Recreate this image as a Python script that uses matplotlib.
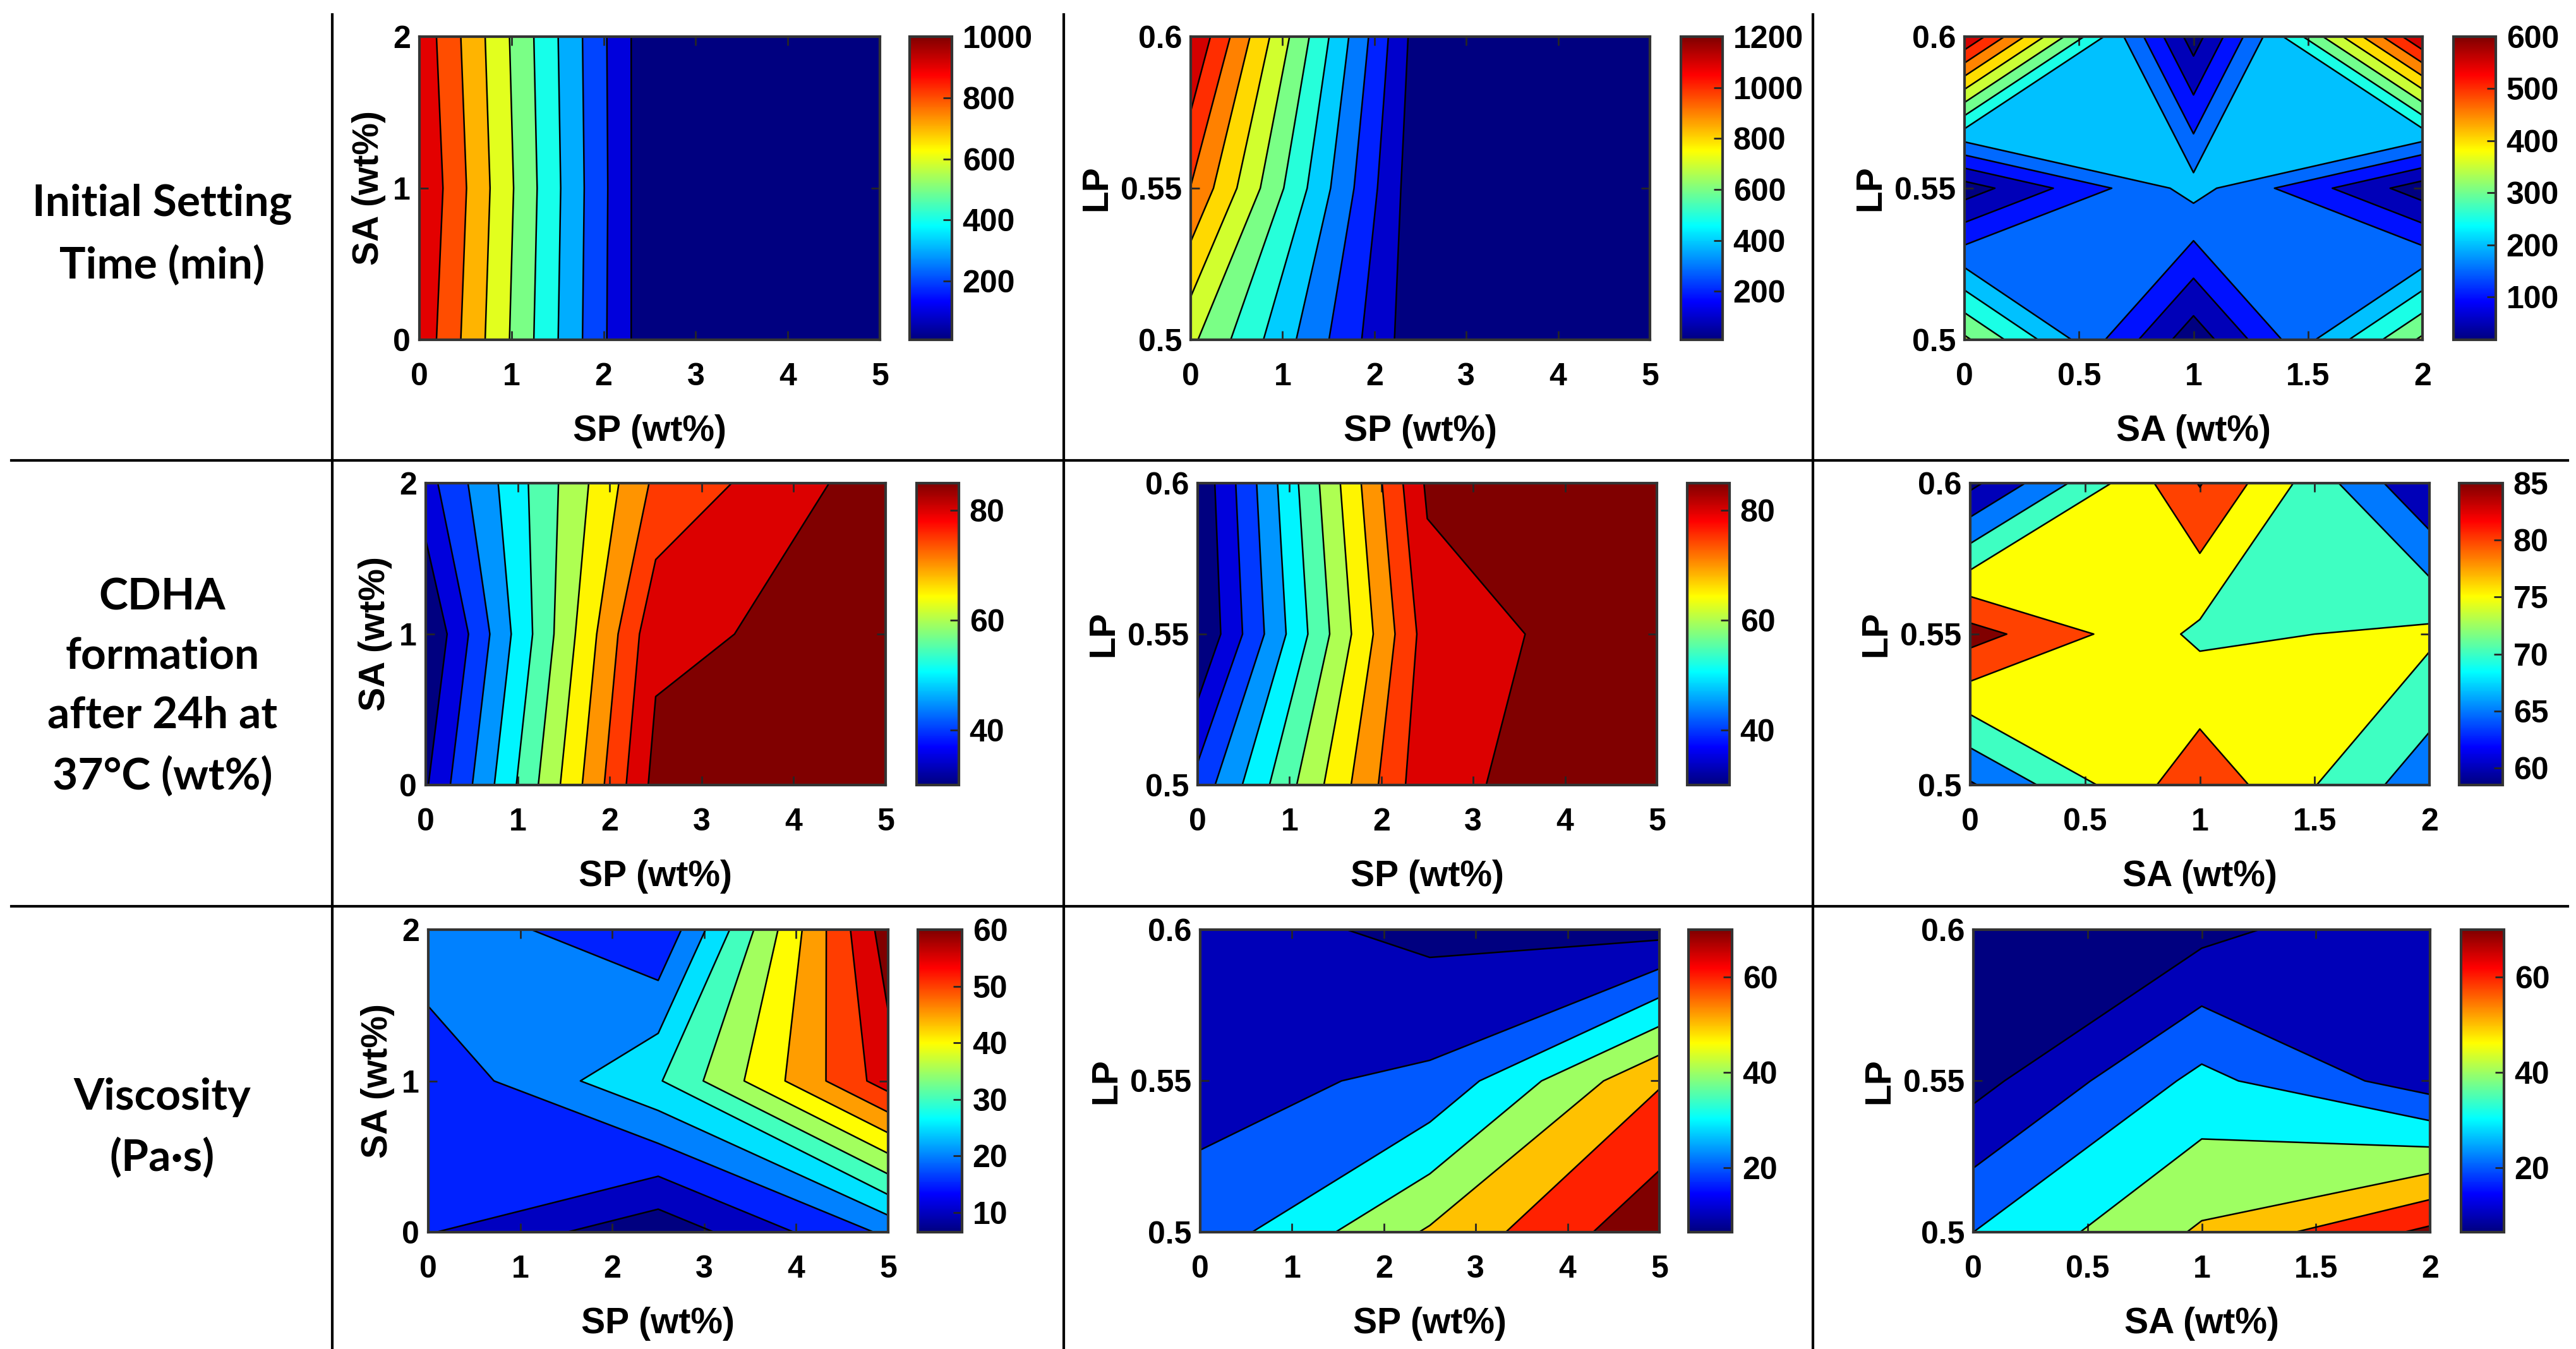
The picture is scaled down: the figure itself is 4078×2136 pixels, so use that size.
import matplotlib
matplotlib.use('Agg')
import matplotlib.pyplot as plt
import numpy as np
from matplotlib.colors import LinearSegmentedColormap, Normalize
from matplotlib.cm import ScalarMappable
from matplotlib.lines import Line2D

# three-level factors
sp = [0, 2.5, 5]
sa = [0, 1, 2]
lp = [0.5, 0.55, 0.6]

# responses on the 3x3 grids, rows = y factor (low -> high), cols = x factor
ist_sp_sa = [[970, 24, 8], [1000, 22, 8], [970, 24, 8]]
ist_sp_lp = [[722, 21, 10], [997, 17, 10], [1200, 38, 10]]
ist_sa_lp = [[360, 18, 360], [24, 220, 22], [600, 25, 600]]

cdha_sp_sa = [[34.4, 86.7, 87.0], [30.0, 83.8, 87.3], [38.0, 76.1, 87.9]]
cdha_sp_lp = [[41.8, 84.0, 87.9], [29.7, 82.4, 88.5], [30.9, 85.8, 88.0]]
cdha_sa_lp = [[64.4, 83.6, 66.7], [87.1, 73.9, 76.1], [58.6, 85.3, 60.0]]

visc_sp_sa = [[15.3, 6.5, 20.9], [16.2, 29.5, 57.6], [23.9, 15.2, 62.8]]
visc_sp_lp = [[23.8, 51.3, 77.6], [16.8, 22.0, 59.0], [14.75, 7.3, 6.4]]
visc_sa_lp = [[30.0, 51.4, 72.4], [6.4, 32.9, 14.85], [7.0, 6.8, 19.5]]

row_labels = ['Initial Setting\nTime (min)',
              'CDHA\nformation\nafter 24h at\n37°C (wt%)',
              'Viscosity\n(Pa·s)']

sp_ticks = [0, 1, 2, 3, 4, 5]
sa_ticks = [0, 1, 2]
sa_xticks = [0, 0.5, 1, 1.5, 2]
lp_ticks = [0.5, 0.55, 0.6]

# matlab style jet
mjet = LinearSegmentedColormap('mjet', {
    'red': [(0, 0, 0), (0.375, 0, 0), (0.625, 1, 1), (0.875, 1, 1), (1, 0.5, 0.5)],
    'green': [(0, 0, 0), (0.125, 0, 0), (0.375, 1, 1), (0.625, 1, 1), (0.875, 0, 0), (1, 0, 0)],
    'blue': [(0, 0.5, 0.5), (0.125, 1, 1), (0.375, 1, 1), (0.625, 0, 0), (1, 0, 0)]}, N=256)

plt.rcParams['font.family'] = ['Liberation Sans', 'DejaVu Sans']
plt.rcParams['font.weight'] = 'bold'

W, H = 4078, 2136
fig = plt.figure(figsize=(W / 200, H / 200), dpi=200)


def rect(x0, y0, x1, y1):
    return [x0 / W, 1 - y1 / H, (x1 - x0) / W, (y1 - y0) / H]


def panel(arect, crect, x, y, z, levels, clim, cticks, xlabel, ylabel, xt, yt):
    z = np.array(z, dtype=float)
    ax = fig.add_axes(rect(*arect))
    norm = Normalize(clim[0], clim[1], clip=True)
    bounds = [min(z.min(), clim[0]) - 1] + list(levels) + [z.max() + 1]
    lows = [clim[0]] + list(levels)
    cols = [mjet(norm(v)) for v in lows]
    ax.contourf(x, y, z, levels=bounds, colors=cols)
    ax.contour(x, y, z, levels=levels, colors='k', linewidths=0.9)
    ax.set_xlim(x[0], x[-1])
    ax.set_ylim(y[0], y[-1])
    ax.set_xticks(xt)
    ax.set_xticklabels([f'{v:g}' for v in xt])
    ax.set_yticks(yt)
    ax.set_yticklabels([f'{v:g}' for v in yt])
    ax.tick_params(direction='in', top=True, right=True, length=5, width=1,
                   color='#262626', labelsize=18)
    ax.tick_params(axis='x', pad=13)
    ax.tick_params(axis='y', pad=5)
    for s in ax.spines.values():
        s.set_color('#333333')
        s.set_linewidth(1.5)
    ax.set_xlabel(xlabel, fontsize=20.5, fontweight='bold', labelpad=13)
    ax.set_ylabel(ylabel, fontsize=20.5, fontweight='bold', labelpad=4)

    cax = fig.add_axes(rect(*crect))
    cb = fig.colorbar(ScalarMappable(norm=Normalize(*clim), cmap=mjet), cax=cax, ticks=cticks)
    cb.ax.tick_params(direction='in', length=5, width=1, color='#262626', labelsize=18, pad=6)
    cb.outline.set_edgecolor('#333333')
    cb.outline.set_linewidth(1.5)


rows_y = [(58, 538), (765, 1243), (1472, 1951)]
ax_x = [[(664, 1393), (1885, 2612), (3110, 3835)],
        [(674, 1402), (1896, 2623), (3119, 3846)],
        [(678, 1406), (1900, 2627), (3124, 3847)]]
cb_x = [[(1440, 1507), (2661, 2727), (3884, 3951)],
        [(1451, 1518), (2671, 2738), (3893, 3962)],
        [(1453, 1523), (2673, 2742), (3896, 3964)]]

specs = [
    [(sp, sa, ist_sp_sa, list(range(100, 1000, 100)), (8, 1000), [200, 400, 600, 800, 1000], 'SP (wt%)', 'SA (wt%)', sp_ticks, sa_ticks),
     (sp, lp, ist_sp_lp, list(range(100, 1200, 100)), (10, 1200), [200, 400, 600, 800, 1000, 1200], 'SP (wt%)', 'LP', sp_ticks, lp_ticks),
     (sa, lp, ist_sa_lp, list(range(50, 600, 50)), (18, 600), [100, 200, 300, 400, 500, 600], 'SA (wt%)', 'LP', sa_xticks, lp_ticks)],
    [(sp, sa, cdha_sp_sa, list(range(35, 90, 5)), (30, 85), [40, 60, 80], 'SP (wt%)', 'SA (wt%)', sp_ticks, sa_ticks),
     (sp, lp, cdha_sp_lp, list(range(35, 90, 5)), (30, 85), [40, 60, 80], 'SP (wt%)', 'LP', sp_ticks, lp_ticks),
     (sa, lp, cdha_sa_lp, list(range(60, 90, 5)), (58.5, 85), [60, 65, 70, 75, 80, 85], 'SA (wt%)', 'LP', sa_xticks, lp_ticks)],
    [(sp, sa, visc_sp_sa, list(range(10, 65, 5)), (6.5, 60), [10, 20, 30, 40, 50, 60], 'SP (wt%)', 'SA (wt%)', sp_ticks, sa_ticks),
     (sp, lp, visc_sp_lp, list(range(10, 80, 10)), (6.4, 70), [20, 40, 60], 'SP (wt%)', 'LP', sp_ticks, lp_ticks),
     (sa, lp, visc_sa_lp, list(range(10, 80, 10)), (6.4, 70), [20, 40, 60], 'SA (wt%)', 'LP', sa_xticks, lp_ticks)],
]

for r in range(3):
    y0, y1 = rows_y[r]
    for c in range(3):
        x, y, z, lv, clim, ct, xl, yl, xt, yt = specs[r][c]
        panel((ax_x[r][c][0], y0, ax_x[r][c][1], y1), (cb_x[r][c][0], y0, cb_x[r][c][1], y1),
              x, y, z, lv, clim, ct, xl, yl, xt, yt)

# row titles
label_y = [372, 1088, 1786]
for lab, yy in zip(row_labels, label_y):
    fig.text(257 / W, 1 - yy / H, lab, ha='center', va='center', fontsize=25,
             fontweight='bold', family=['Lato', 'DejaVu Sans'], linespacing=1.6)

# table grid lines
for xx in [526, 1684, 2870]:
    fig.add_artist(Line2D([xx / W, xx / W], [1 - 23 / H, 0], transform=fig.transFigure,
                          color='black', lw=1.5))
for yy in [729, 1435]:
    fig.add_artist(Line2D([18 / W, 4065 / W], [1 - yy / H, 1 - yy / H], transform=fig.transFigure,
                          color='black', lw=1.5))

fig.savefig('out.png', dpi=200)
